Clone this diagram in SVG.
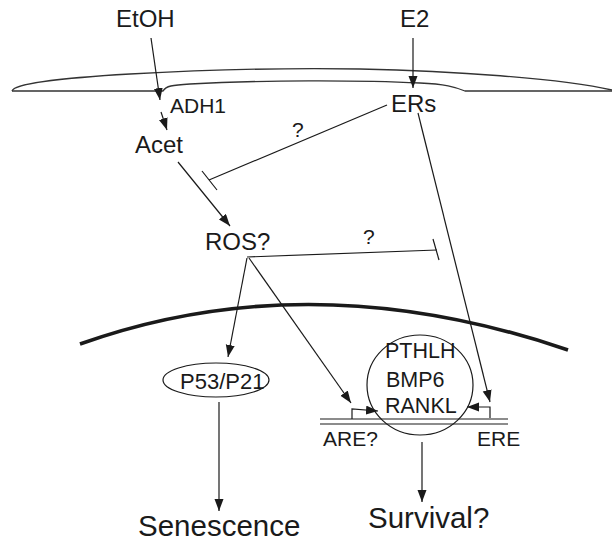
<svg xmlns="http://www.w3.org/2000/svg" width="612" height="542" viewBox="0 0 612 542">
  <style>
    text { font-family: "Liberation Sans", Arial, sans-serif; fill: #1a1a1a; }
    .ln { fill: none; stroke: #1a1a1a; stroke-width: 1.2; }
    .mem { fill: none; stroke: #333; stroke-width: 1.3; }
    .nuc { fill: none; stroke: #1a1a1a; stroke-width: 3.6; }
  </style>
  <defs>
    <marker id="arr" markerUnits="userSpaceOnUse" markerWidth="13" markerHeight="10" refX="12" refY="4.5" orient="auto">
      <path d="M0,0 L12,4.5 L0,9 Z" fill="#1a1a1a"/>
    </marker>
  </defs>

  <rect width="612" height="542" fill="#fff"/>

  <!-- cell membrane -->
  <g id="cell-membrane">
    <path class="mem" d="M12,91 C14,84 60,78 130,74 C220,69 300,68 360,69 C450,71 560,78 612,90"/>
    <path class="mem" d="M12,91 L163,91 C166,86 172,85 190,84 C260,80 360,80 420,83 C445,84 455,87 465,91 L612,91"/>
  </g>

  <!-- nuclear membrane -->
  <g id="nuclear-membrane">
    <path class="nuc" d="M80,344 Q310,262 568,350"/>
  </g>

  <!-- connectors -->
  <g id="connectors">
    <line class="ln" x1="151" y1="38" x2="160" y2="100" marker-end="url(#arr)"/>
    <line class="ln" x1="161" y1="112" x2="167" y2="130" marker-end="url(#arr)"/>
    <line class="ln" x1="413" y1="38" x2="413" y2="88" marker-end="url(#arr)"/>
    <line class="ln" x1="178" y1="162" x2="230" y2="226" marker-end="url(#arr)"/>
    <!-- ERs ⊣ Acet->ROS -->
    <line class="ln" x1="387" y1="105" x2="209" y2="180"/>
    <line class="ln" x1="202" y1="171" x2="217" y2="190"/>
    <!-- ROS ⊣ -->
    <line class="ln" x1="247" y1="257" x2="437" y2="250"/>
    <line class="ln" x1="433" y1="239" x2="439" y2="260"/>
    <!-- ROS to P53/P21 and ARE -->
    <line class="ln" x1="247" y1="258" x2="228" y2="357" marker-end="url(#arr)"/>
    <line class="ln" x1="249" y1="258" x2="351" y2="403" marker-end="url(#arr)"/>
    <!-- ERs to ERE -->
    <line class="ln" x1="418" y1="113" x2="490" y2="402" marker-end="url(#arr)"/>
    <!-- promoter brackets -->
    <polyline class="ln" points="352,419 352,409 378,411" marker-end="url(#arr)"/>
    <polyline class="ln" points="490,418 490,407 467,407" marker-end="url(#arr)"/>
    <!-- downstream outcomes -->
    <line class="ln" x1="219" y1="402" x2="219" y2="511" marker-end="url(#arr)"/>
    <line class="ln" x1="422" y1="442" x2="422" y2="502" marker-end="url(#arr)"/>
  </g>

  <!-- DNA strand -->
  <g id="dna">
    <line class="ln" x1="320" y1="419" x2="508" y2="419"/>
    <line class="ln" x1="320" y1="424" x2="508" y2="424"/>
  </g>

  <g id="etoh"><text x="116" y="27" font-size="24">EtOH</text></g>
  <g id="e2"><text x="400" y="27" font-size="24">E2</text></g>
  <g id="adh1"><text x="170" y="113" font-size="21">ADH1</text></g>
  <g id="ers"><text x="391" y="112" font-size="24">ERs</text></g>
  <g id="acet"><text x="135" y="153" font-size="24">Acet</text></g>
  <g id="q1"><text x="292" y="137" font-size="21">?</text></g>
  <g id="ros"><text x="205" y="250" font-size="24">ROS?</text></g>
  <g id="q2"><text x="363" y="244" font-size="21">?</text></g>

  <g id="p53-p21">
    <ellipse cx="216" cy="380" rx="53" ry="17" fill="none" stroke="#1a1a1a" stroke-width="1.2"/>
    <text x="180" y="389" font-size="22">P53/P21</text>
  </g>

  <g id="targets">
    <ellipse cx="420" cy="385" rx="53" ry="50" fill="none" stroke="#1a1a1a" stroke-width="1.2"/>
    <text x="385" y="358" font-size="21.5">PTHLH</text>
    <text x="386" y="387" font-size="21.5">BMP6</text>
    <text x="385" y="413" font-size="21.5">RANKL</text>
  </g>

  <g id="are"><text x="323" y="446" font-size="21">ARE?</text></g>
  <g id="ere"><text x="477" y="446" font-size="21">ERE</text></g>

  <g id="senescence"><text x="138" y="536" font-size="29.5">Senescence</text></g>
  <g id="survival"><text x="368" y="528" font-size="29.5">Survival?</text></g>
</svg>
